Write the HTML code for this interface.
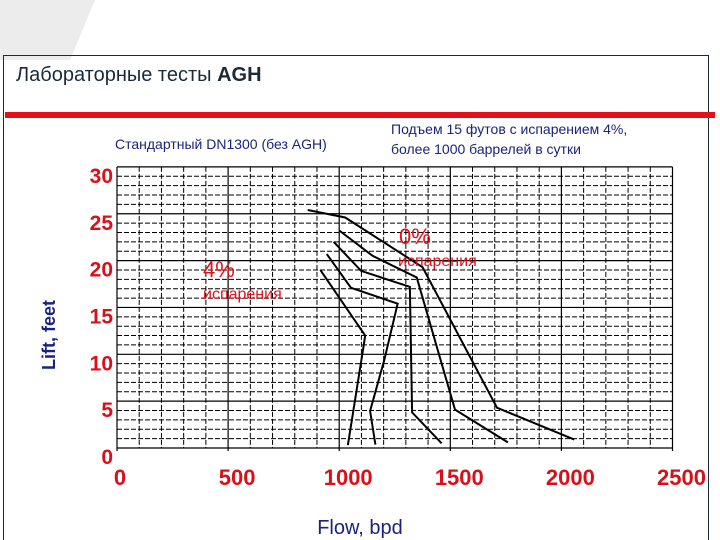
<!DOCTYPE html>
<html><head><meta charset="utf-8"><style>
body{margin:0;width:720px;height:540px;background:#fff;overflow:hidden;font-family:"Liberation Sans","DejaVu Sans",sans-serif}
svg{display:block}
</style></head><body>
<svg width="720" height="540">
<polygon points="0,0 95,0 70,60 0,60" fill="#ececec"/>
<rect x="3.5" y="55.5" width="705" height="490" fill="none" stroke="#1a2a3a" stroke-width="1"/>
<text x="16" y="81" font-size="20" fill="#1a2a3a">Лабораторные тесты <tspan font-weight="bold">AGH</tspan></text>
<rect x="5" y="112" width="710" height="6" fill="#e3101a"/>
<text x="115" y="149" font-size="14" fill="#1a237e">Стандартный DN1300 (без AGH)</text>
<text x="391" y="134" font-size="14" fill="#1a237e">Подъем 15 футов с испарением 4%,</text>
<text x="391" y="154" font-size="14" fill="#1a237e">более 1000 баррелей в сутки</text>
<g id="grid"></g>
<g id="ticks"></g>
<g id="curves"></g>
<text x="399" y="244" font-size="22" fill="#e3101a">0%</text>
<text x="398" y="266" font-size="16" fill="#e3101a">испарения</text>
<text x="203" y="277" font-size="22" fill="#e3101a">4%</text>
<text x="203" y="299" font-size="16" fill="#e3101a">испарения</text>
<text transform="translate(55,335) rotate(-90)" text-anchor="middle" font-size="18" font-weight="bold" fill="#1a237e">Lift, feet</text>
<text x="360" y="534" text-anchor="middle" font-size="20" fill="#1a237e">Flow, bpd</text>
</svg>
<script>
const xTicks=[0,500,1000,1500,2000,2500];
const yTicks=[0,5,10,15,20,25,30];
const curveAx=[858,1027,1375,1710,2058], curveAy=[25.4,24.6,19.3,4.3,0.9];
const curveBx=[1001,1151,1349,1521,1759], curveBy=[23.2,20.5,18.2,4.1,0.6];
const curveCx=[975,1099,1318,1328,1461], curveCy=[22.0,18.9,17.2,3.8,0.5];
const curveDx=[944,1053,1263,1203,1139,1163], curveDy=[20.7,17.1,15.4,9.4,3.95,0.36];
const curveEx=[915,1117,1108,1039], curveEy=[19.0,12.0,10.6,0.3];
const X0=117,XS=0.2222,Y0=448,YS=9.37;
const sx=v=>X0+v*XS, sy=v=>Y0-v*YS;
const NS='http://www.w3.org/2000/svg';
function mk(t,a,p){const e=document.createElementNS(NS,t);for(const k in a)e.setAttribute(k,a[k]);p.appendChild(e);return e;}
const g=document.getElementById('grid'),tk=document.getElementById('ticks'),cv=document.getElementById('curves');
for(let v=0;v<=2500;v+=100){const x=sx(v);const major=v%500===0;
const l=mk('line',{x1:x,x2:x,y1:sy(30),y2:sy(0)+(major?3:0),stroke:'#000','stroke-width':major?1.2:1,'stroke-dasharray':major?'':'5,2'},g);

}
for(let v=0;v<=30;v+=1){const y=sy(v);const major=v%5===0;
const l=mk('line',{x1:sx(0),x2:sx(2500),y1:y,y2:y,stroke:'#000','stroke-width':major?1.2:1,'stroke-dasharray':major?'':'5,2'},g);

}
xTicks.forEach(v=>{const t=mk('text',{x:sx(v)+(v===0?3:9),y:485,'text-anchor':'middle','font-size':22,'font-weight':'bold',fill:'#d8101a'},tk);t.textContent=v;

});
yTicks.forEach(v=>{const t=mk('text',{x:113,y:sy(v)+16,'text-anchor':'end','font-size':21,'font-weight':'bold',fill:'#d8101a'},tk);t.textContent=v;

});
[[curveAx,curveAy,'curve-0pct-outer'],[curveBx,curveBy,'curve-0pct-mid'],[curveCx,curveCy,'curve-0pct-inner'],[curveDx,curveDy,'curve-4pct-outer'],[curveEx,curveEy,'curve-4pct-inner']].forEach(([xs,ys,n])=>{
const p=mk('polyline',{points:xs.map((x,i)=>sx(x)+','+sy(ys[i])).join(' '),fill:'none',stroke:'#000','stroke-width':2},cv);

});
</script>
</body></html>
